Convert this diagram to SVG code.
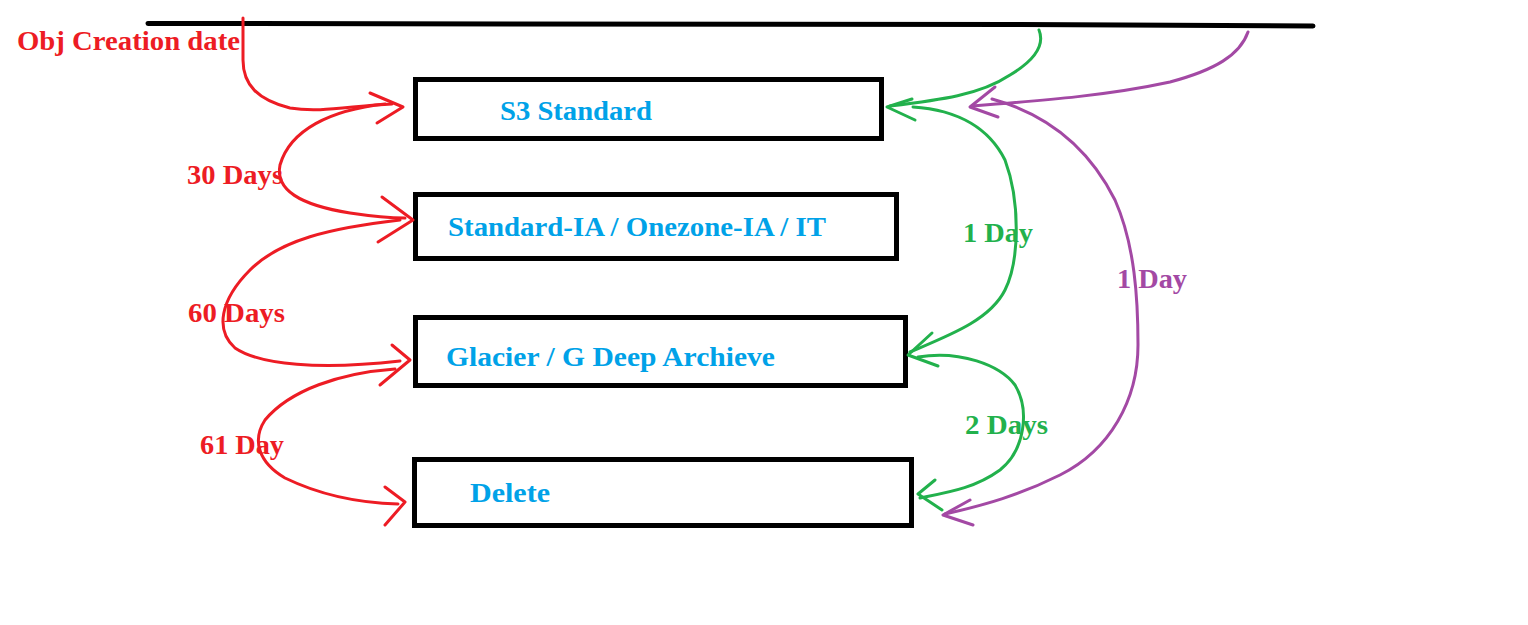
<svg xmlns="http://www.w3.org/2000/svg" width="1528" height="625" viewBox="0 0 1528 625">
<style>
.box{fill:#ffffff;stroke:#000000;stroke-width:5}
.t{font-family:"Liberation Serif","Times New Roman",serif;font-weight:bold;font-size:27px}
.blue{fill:#00a2e8}
.red{fill:#ed1c24}
.green{fill:#22b14c}
.purple{fill:#a349a4}
.c{fill:none;stroke-width:3;stroke-linecap:round;stroke-linejoin:round}
.cr{stroke:#ed1c24}
.cg{stroke:#22b14c}
.cp{stroke:#a349a4}
</style>
<rect width="1528" height="625" fill="#ffffff"/>
<g id="timeline">
<path d="M148,23.5 L1022,24.5 L1313,26" fill="none" stroke="#000000" stroke-width="5" stroke-linecap="round"/>
<text class="t red" x="17" y="50" textLength="223" lengthAdjust="spacingAndGlyphs">Obj Creation date</text>
</g>
<g id="node-s3-standard">
<rect class="box" x="415.5" y="79.5" width="466" height="59"/>
<text class="t blue" x="500" y="120" textLength="152" lengthAdjust="spacingAndGlyphs">S3 Standard</text>
</g>
<g id="node-standard-ia">
<rect class="box" x="415.5" y="194.5" width="481" height="64"/>
<text class="t blue" x="448" y="236" textLength="378" lengthAdjust="spacingAndGlyphs">Standard-IA / Onezone-IA / IT</text>
</g>
<g id="node-glacier">
<rect class="box" x="415.5" y="317.5" width="490" height="68"/>
<text class="t blue" x="446" y="366" textLength="329" lengthAdjust="spacingAndGlyphs">Glacier / G Deep Archieve</text>
</g>
<g id="node-delete">
<rect class="box" x="414.5" y="459.5" width="497" height="66"/>
<text class="t blue" x="470" y="502" textLength="80" lengthAdjust="spacingAndGlyphs">Delete</text>
</g>
<g id="connectors">
<path class="c cr" d="M243,18 L243,60 C243,85 258,100 290,108 C320,113 350,106 392,104"/>
<path class="c cr" d="M370,93 L403,107 L377,123"/>
<path class="c cr" d="M385,104 C330,110 290,130 280,165 C275,190 300,205 350,213 C370,216 390,218 405,218"/>
<path class="c cr" d="M382,197 L413,220 L378,242"/>
<path class="c cr" d="M400,220 C330,228 280,240 250,270 C220,300 215,330 235,348 C260,365 320,370 400,361"/>
<path class="c cr" d="M392,345 L410,360 L380,385"/>
<path class="c cr" d="M395,369 C340,373 290,390 265,420 C252,440 258,462 285,478 C320,495 360,503 398,504"/>
<path class="c cr" d="M385,487 L405,502 L385,525"/>
<path class="c cg" d="M1039,30 C1045,45 1035,60 1010,75 C980,95 940,100 890,106"/>
<path class="c cg" d="M912,99 L887,107 L915,120"/>
<path class="c cg" d="M913,107 C960,110 990,130 1005,160 C1020,200 1020,260 1005,290 C990,320 950,335 910,352"/>
<path class="c cg" d="M932,333 L908,355 L938,366"/>
<path class="c cg" d="M918,357 C960,350 1000,365 1015,385 C1030,410 1025,450 1000,470 C975,488 950,492 920,498"/>
<path class="c cg" d="M935,480 L918,494 L942,510"/>
<path class="c cp" d="M1248,32 C1240,55 1215,70 1170,82 C1110,95 1050,100 972,106"/>
<path class="c cp" d="M995,87 L970,107 L998,117"/>
<path class="c cp" d="M992,99 C1050,115 1090,150 1115,200 C1135,245 1138,300 1138,345 C1138,400 1110,450 1060,475 C1020,495 985,505 945,514"/>
<path class="c cp" d="M970,500 L943,515 L973,525"/>
<text class="t red" x="187" y="184" textLength="96" lengthAdjust="spacingAndGlyphs">30 Days</text>
<text class="t red" x="188" y="322" textLength="97" lengthAdjust="spacingAndGlyphs">60 Days</text>
<text class="t red" x="200" y="454" textLength="84" lengthAdjust="spacingAndGlyphs">61 Day</text>
<text class="t green" x="963" y="242" textLength="70" lengthAdjust="spacingAndGlyphs">1 Day</text>
<text class="t purple" x="1117" y="288" textLength="70" lengthAdjust="spacingAndGlyphs">1 Day</text>
<text class="t green" x="965" y="434" textLength="83" lengthAdjust="spacingAndGlyphs">2 Days</text>
</g>
</svg>
